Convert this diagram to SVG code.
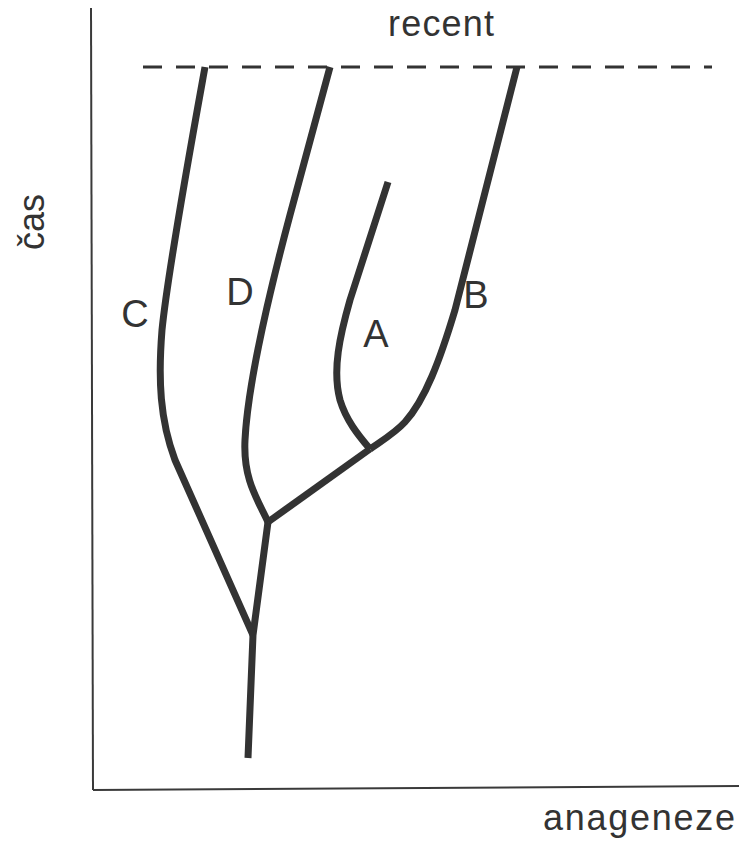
<svg xmlns="http://www.w3.org/2000/svg" width="739" height="843" viewBox="0 0 739 843">
<style>
.axis{stroke:#3a3a3a;stroke-width:2;fill:none}
.br{stroke:#333;stroke-width:7;fill:none;stroke-linejoin:round;stroke-linecap:butt}
.lbl{font-family:"Liberation Sans",Arial,sans-serif;font-size:38px;fill:#333;text-anchor:middle}
.ax{font-family:"Liberation Sans",Arial,sans-serif;font-size:36px;fill:#333}
</style>
<rect width="739" height="843" fill="#fff"/>
<g id="axes">
<line class="axis" x1="91" y1="8" x2="93" y2="790"/>
<line class="axis" x1="93" y1="790" x2="739" y2="786"/>
<text class="ax" x="388" y="36" textLength="106">recent</text>
<text class="ax" x="543" y="830" textLength="192">anageneze</text>
<text class="ax" text-anchor="middle" transform="translate(44,222) rotate(-90)">čas</text>
<line x1="143" y1="67" x2="712" y2="67" stroke="#333" stroke-width="3" stroke-dasharray="19 14"/>
</g>
<g id="connectors">
<path id="trunk" class="br" d="M248,758 L253,635 L268,522"/>
<path id="branch-C" class="br" d="M205,67 C190,150 168,270 162,330 C158,380 160,420 175,460 L253,635"/>
<path id="branch-D" class="br" d="M330,67 L290,215 C270,290 248,380 245,440 C243,480 258,500 268,522"/>
<path id="stem-AB" class="br" d="M268,522 L370,449"/>
<path id="branch-B" class="br" d="M517,67 L455,310 C440,360 425,400 405,422 C395,433 383,440 370,449"/>
<path id="branch-A" class="br" d="M388,182 L350,300 C340,335 332,370 340,400 C346,420 358,435 370,449"/>
</g>
<g id="node-C"><text class="lbl" x="135" y="327">C</text></g>
<g id="node-D"><text class="lbl" x="240" y="305">D</text></g>
<g id="node-B"><text class="lbl" x="476" y="308">B</text></g>
<g id="node-A"><text class="lbl" x="376" y="347">A</text></g>
</svg>
